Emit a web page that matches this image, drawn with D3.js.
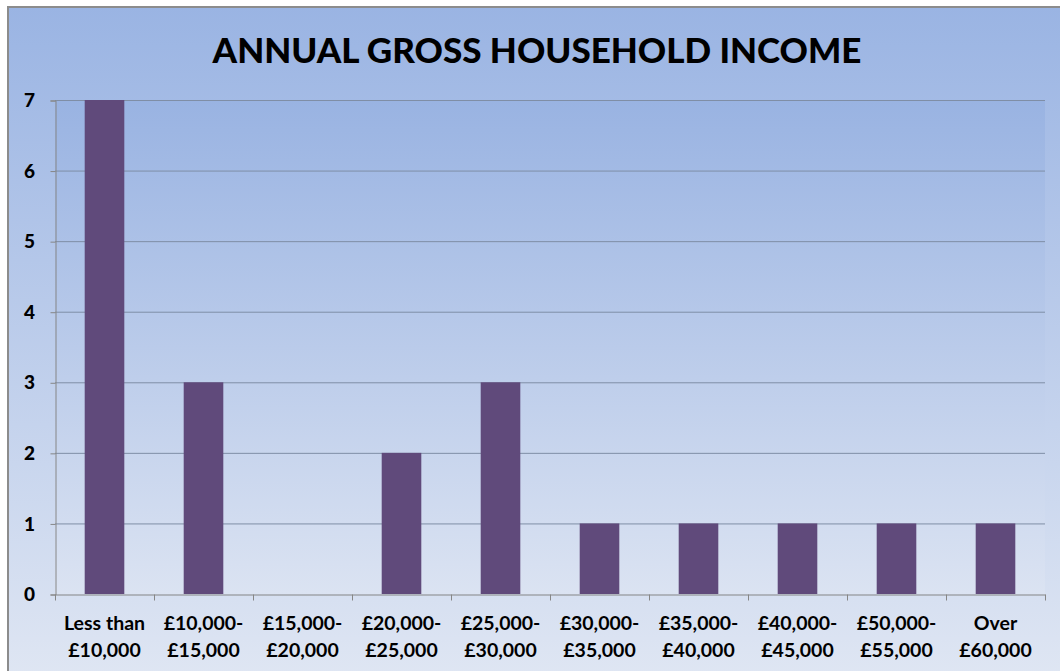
<!DOCTYPE html>
<html><head><meta charset="utf-8">
<script src="https://cdn.jsdelivr.net/npm/d3@7/dist/d3.min.js"></script>
<style>html,body{margin:0;padding:0;background:#fff;}svg{display:block;}</style>
</head><body>
<svg id="c" width="1060" height="671"></svg>
<script>
const categories = [
  ["Less than","£10,000"],["£10,000-","£15,000"],["£15,000-","£20,000"],["£20,000-","£25,000"],
  ["£25,000-","£30,000"],["£30,000-","£35,000"],["£35,000-","£40,000"],["£40,000-","£45,000"],
  ["£50,000-","£55,000"],["Over","£60,000"]
];
const values = [7,3,0,2,3,1,1,1,1,1];
const yTicks = [0,1,2,3,4,5,6,7];
const title = "ANNUAL GROSS HOUSEHOLD INCOME";

const svg = d3.select("#c");
const W = 1060, H = 671;
const font = "Lato, 'Open Sans', sans-serif";
const defs = svg.append("defs");
const g1 = defs.append("linearGradient").attr("id","bg").attr("x1",0).attr("y1",0).attr("x2",0).attr("y2",1);
g1.append("stop").attr("offset","0%").attr("stop-color","#9ab4e3");
g1.append("stop").attr("offset","100%").attr("stop-color","#dfe6f3");
const g2 = defs.append("linearGradient").attr("id","pa").attr("gradientUnits","userSpaceOnUse")
  .attr("x1",0).attr("y1",100).attr("x2",0).attr("y2",594);
g2.append("stop").attr("offset","0%").attr("stop-color","#99b3e2");
g2.append("stop").attr("offset","100%").attr("stop-color","#dbe3f2");

svg.append("rect").attr("x",0).attr("y",0).attr("width",W).attr("height",H).attr("fill","#fff");
svg.append("rect").attr("x",8).attr("y",7).attr("width",W).attr("height",H).attr("fill","url(#bg)")
  .attr("stroke","#8c8c8c").attr("stroke-width",2);

const m = {l:55, r:1045, t:100, b:594};
const x = d3.scaleBand().domain(d3.range(categories.length)).range([m.l,m.r]).paddingInner(0.6).paddingOuter(0.3);
const xb = d3.scaleBand().domain(d3.range(categories.length)).range([m.l,m.r]);
const y = d3.scaleLinear().domain([0,7]).range([m.b,m.t]);

svg.append("rect").attr("x",m.l).attr("y",m.t).attr("width",m.r-m.l).attr("height",m.b-m.t).attr("fill","url(#pa)");

// gridlines
svg.append("g").selectAll("line").data(yTicks.filter(d=>d>0)).join("line")
  .attr("x1",m.l).attr("x2",m.r).attr("y1",d=>y(d)+0.5).attr("y2",d=>y(d)+0.5)
  .attr("stroke","#7f8ea6").attr("stroke-width",1);

// bars
svg.append("g").selectAll("rect").data(values).join("rect")
  .attr("x",(d,i)=>x(i)).attr("width",x.bandwidth())
  .attr("y",d=>y(d)).attr("height",d=>y(0)-y(d)).attr("fill","#604a7b");

// y axis
const ya = d3.axisLeft(y).tickValues(yTicks).tickSize(5).tickPadding(10).tickFormat(d3.format("d"));
const yg = svg.append("g").attr("transform",`translate(${m.l+0.5},0.5)`).call(ya);
yg.select(".domain").attr("stroke","#868686");
yg.selectAll(".tick line").attr("stroke","#868686");
yg.selectAll(".tick text").attr("font-family",font).attr("font-weight","900").attr("font-size",19).attr("fill","#000").attr("text-anchor","middle").attr("x",-26);

// x axis
const xa = d3.axisBottom(xb).tickSize(0).tickFormat("");
const xg = svg.append("g").attr("transform",`translate(0,${m.b+0.5})`).call(xa);
xg.select(".domain").attr("stroke","#868686");
xg.selectAll(".tick").remove();
xg.selectAll(".bt").data(d3.range(categories.length+1)).join("line")
  .attr("x1",i=>Math.round(m.l+i*xb.step())+0.5).attr("x2",i=>Math.round(m.l+i*xb.step())+0.5)
  .attr("y1",0).attr("y2",6).attr("stroke","#868686");

const lab = svg.append("g").selectAll("text").data(categories).join("text")
  .attr("font-family",font).attr("font-weight","bold").attr("font-size",19.5).attr("fill","#000")
  .attr("text-anchor","middle");
lab.each(function(d,i){
  const t = d3.select(this);
  const cx = xb(i)+xb.bandwidth()/2;
  t.append("tspan").attr("x",cx).attr("y",630).text(d[0]);
  t.append("tspan").attr("x",cx).attr("y",657).text(d[1]);
});

svg.append("text").attr("x",537).attr("y",63).attr("text-anchor","middle")
  .attr("font-family",font).attr("font-weight","900").attr("font-size",35).attr("fill","#000").text(title);
</script>
</body></html>
